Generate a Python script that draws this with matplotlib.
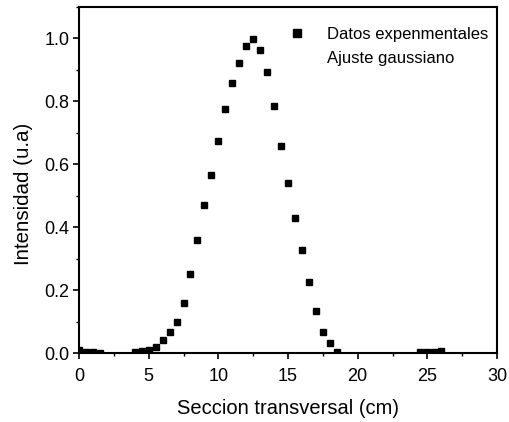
import matplotlib
matplotlib.use("Agg")
import matplotlib.pyplot as plt
from matplotlib.lines import Line2D
from matplotlib.ticker import MultipleLocator

plt.rcParams['font.family'] = ['Liberation Sans', 'DejaVu Sans']

# Data
seccion = [0.0, 0.5, 1.0, 1.5, 4.0, 4.5, 5.0, 5.5, 6.0, 6.5, 7.0, 7.5, 8.0, 8.5,
           9.0, 9.5, 10.0, 10.5, 11.0, 11.5, 12.0, 12.5, 13.0, 13.5, 14.0, 14.5,
           15.0, 15.5, 16.0, 16.5, 17.0, 17.5, 18.0, 18.5, 24.5, 25.0, 25.5, 26.0]
intensidad = [0.008, 0.004, 0.002, 0.001, 0.002, 0.005, 0.010, 0.020, 0.041, 0.066,
              0.100, 0.159, 0.250, 0.360, 0.470, 0.567, 0.673, 0.775, 0.859, 0.923,
              0.976, 0.999, 0.962, 0.893, 0.784, 0.657, 0.541, 0.430, 0.329, 0.226,
              0.133, 0.068, 0.033, 0.004, 0.002, 0.003, 0.003, 0.005]

xlabel = "Seccion transversal (cm)"
ylabel = "Intensidad (u.a)"
legend_labels = ["Datos expenmentales", "Ajuste gaussiano"]
yticks = [0.0, 0.2, 0.4, 0.6, 0.8, 1.0]
ytick_labels = ["0.0", "0.2", "0.4", "0.6", "0.8", "1.0"]

fig = plt.figure(figsize=(5.09, 4.22), dpi=100)
ax = fig.add_axes([79/509, 1-353/422, (497-79)/509, (353-7)/422])

ax.plot(seccion, intensidad, linestyle='none', marker='s', markersize=5,
        color='black', clip_on=True)

ax.set_xlim(0, 30)
ax.set_ylim(0, 1.1)
ax.xaxis.set_major_locator(MultipleLocator(5))
ax.xaxis.set_minor_locator(MultipleLocator(2.5))
ax.yaxis.set_minor_locator(MultipleLocator(0.1))
ax.set_yticks(yticks)
ax.set_yticklabels(ytick_labels)
ax.tick_params(which='major', direction='out', length=4, width=1.2, labelsize=13)
ax.tick_params(axis='x', which='major', pad=7)
ax.tick_params(axis='y', which='major', pad=3)
ax.tick_params(which='minor', direction='out', length=2.5, width=1.0)
for s in ax.spines.values():
    s.set_linewidth(1.5)

ax.set_xlabel(xlabel, fontsize=14.5, labelpad=10)
ax.set_ylabel(ylabel, fontsize=14.8, labelpad=8)
ax.yaxis.label.set_y(0.46)

handles = [Line2D([], [], linestyle='none', marker='s', markersize=5.5, color='black'),
           Line2D([], [], linestyle='none', color='black')]
ax.legend(handles, legend_labels, loc='upper right', frameon=False, fontsize=12,
          handlelength=1.0, handletextpad=1.25, labelspacing=0.55,
          bbox_to_anchor=(1.014, 0.985))

fig.savefig("out.png", dpi=100)
